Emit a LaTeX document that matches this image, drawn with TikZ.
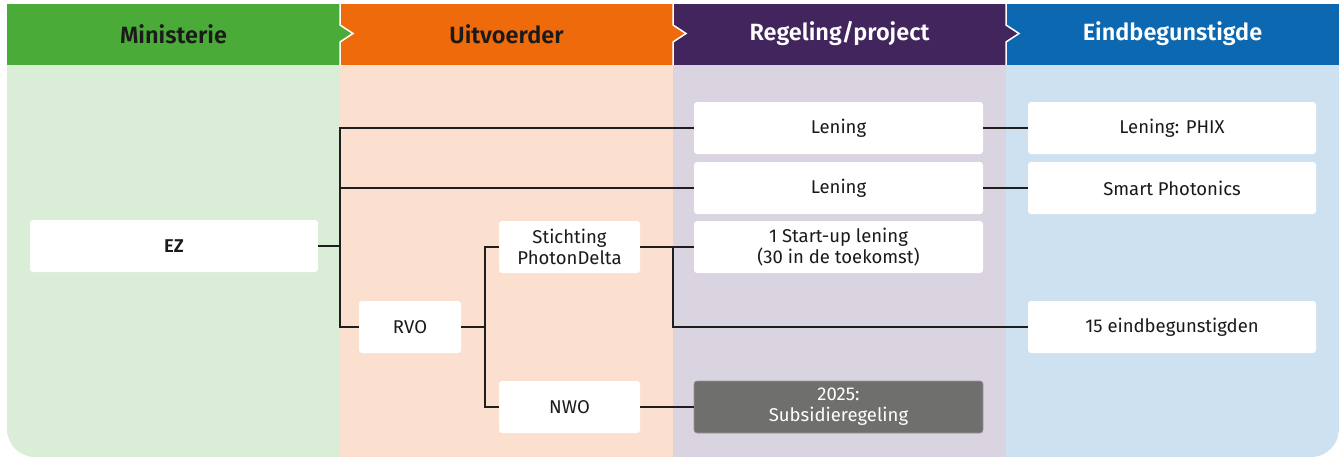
\documentclass[tikz,border=0pt]{standalone}
\usepackage{fontspec}
\setmainfont{Fira Sans}[BoldFont={Fira Sans SemiBold}]
\definecolor{cgreen}{HTML}{4BAB38}
\definecolor{lgreen}{HTML}{DAEDD7}
\definecolor{corange}{HTML}{EE6A0A}
\definecolor{lorange}{HTML}{FCE0CF}
\definecolor{cpurple}{HTML}{42255D}
\definecolor{lpurple}{HTML}{DAD3E0}
\definecolor{cblue}{HTML}{0B68B1}
\definecolor{lblue}{HTML}{CEE1F0}
\definecolor{cgray}{HTML}{6F6F6D}
\definecolor{cline}{HTML}{1E1E1E}
\definecolor{ctext}{HTML}{1A1A1A}
\begin{document}
\begin{tikzpicture}[x=1pt,y=-1pt,
  box/.style={fill=white,rounded corners=3pt,minimum height=52pt,align=center,
    font=\fontsize{18.5}{21}\selectfont,text=ctext,inner sep=0pt},
  graybox/.style={box,fill=cgray,draw=gray!80,line width=0.6pt,text=white},
  conn/.style={draw=cline,line width=1.2pt},
  head/.style={font=\fontsize{23.5}{26}\selectfont\bfseries},
  chev/.style={draw=white,line width=1.5pt}]
\useasboundingbox (0,0) rectangle (1341,459);
\fill[white] (0,0) rectangle (1341,459);
% light panels
\begin{scope}
\clip[rounded corners=28pt] (7,4) rectangle (1339,457);
\fill[lgreen] (7,40) rectangle (340,457);
\fill[lorange] (340,40) rectangle (673,457);
\fill[lpurple] (673,40) rectangle (1006,457);
\fill[lblue] (1006,40) rectangle (1339,457);
\end{scope}
% headers
\fill[cgreen] (7,4) rectangle (340,65);
\fill[corange] (340,4) rectangle (673,65);
\fill[cpurple] (673,4) rectangle (1006,65);
\fill[cblue] (1006,4) rectangle (1339,65);
\fill[cgreen] (340,25) -- (353,33.5) -- (340,42) -- cycle;
\fill[corange] (673,25) -- (686,33.5) -- (673,42) -- cycle;
\fill[cpurple] (1006,25) -- (1019,33.5) -- (1006,42) -- cycle;
\draw[chev] (340,4) -- (340,25) -- (353,33.5) -- (340,42) -- (340,65);
\draw[chev] (673,4) -- (673,25) -- (686,33.5) -- (673,42) -- (673,65);
\draw[chev] (1006,4) -- (1006,25) -- (1019,33.5) -- (1006,42) -- (1006,65);
\node[head,text=ctext] (h1) at (173.5,34) {Ministerie};
\node[head,text=ctext] (h2) at (506.5,34) {Uitvoerder};
\node[head,text=white] (h3) at (839.5,34) {Regeling/project};
\node[head,text=white] (h4) at (1172.5,34) {Eindbegunstigde};
% boxes
\node[box,minimum width=288pt] (ez) at (174,246) {\textbf{EZ}};
\node[box,minimum width=102pt] (rvo) at (410,327) {RVO};
\node[box,minimum width=141pt] (stich) at (569.5,247) {Stichting\\PhotonDelta};
\node[box,minimum width=141pt] (nwo) at (569.5,407) {NWO};
\node[box,minimum width=289pt] (len1) at (838.5,128) {Lening};
\node[box,minimum width=289pt] (len2) at (838.5,188) {Lening};
\node[box,minimum width=289pt] (start) at (838.5,247) {1 Start-up lening\\(30 in de toekomst)};
\node[graybox,minimum width=289pt] (sub) at (838.5,407) {2025:\\Subsidieregeling};
\node[box,minimum width=288pt] (phix) at (1172,128) {Lening: PHIX};
\node[box,minimum width=288pt] (smart) at (1172,188) {Smart Photonics};
\node[box,minimum width=288pt] (eind) at (1172,327) {15 eindbegunstigden};
% trunks
\coordinate (t1) at (340,0);
\coordinate (t2) at (485,0);
\coordinate (t3) at (673,0);
% connectors
\draw[conn] (ez.east) -- (ez.east -| t1);
\draw[conn] (len1.west) -- (len1.west -| t1) |- (rvo.west);
\draw[conn] (len2.west) -- (len2.west -| t1);
\draw[conn] (rvo.east) -- (rvo.east -| t2);
\draw[conn] (stich.west) -- (stich.west -| t2) |- (nwo.west);
\draw[conn] (stich.east) -- (start.west);
\draw[conn] (stich.east -| t3) |- (eind.west);
\draw[conn] (nwo.east) -- (sub.west);
\draw[conn] (len1.east) -- (phix.west);
\draw[conn] (len2.east) -- (smart.west);
\end{tikzpicture}
\end{document}
